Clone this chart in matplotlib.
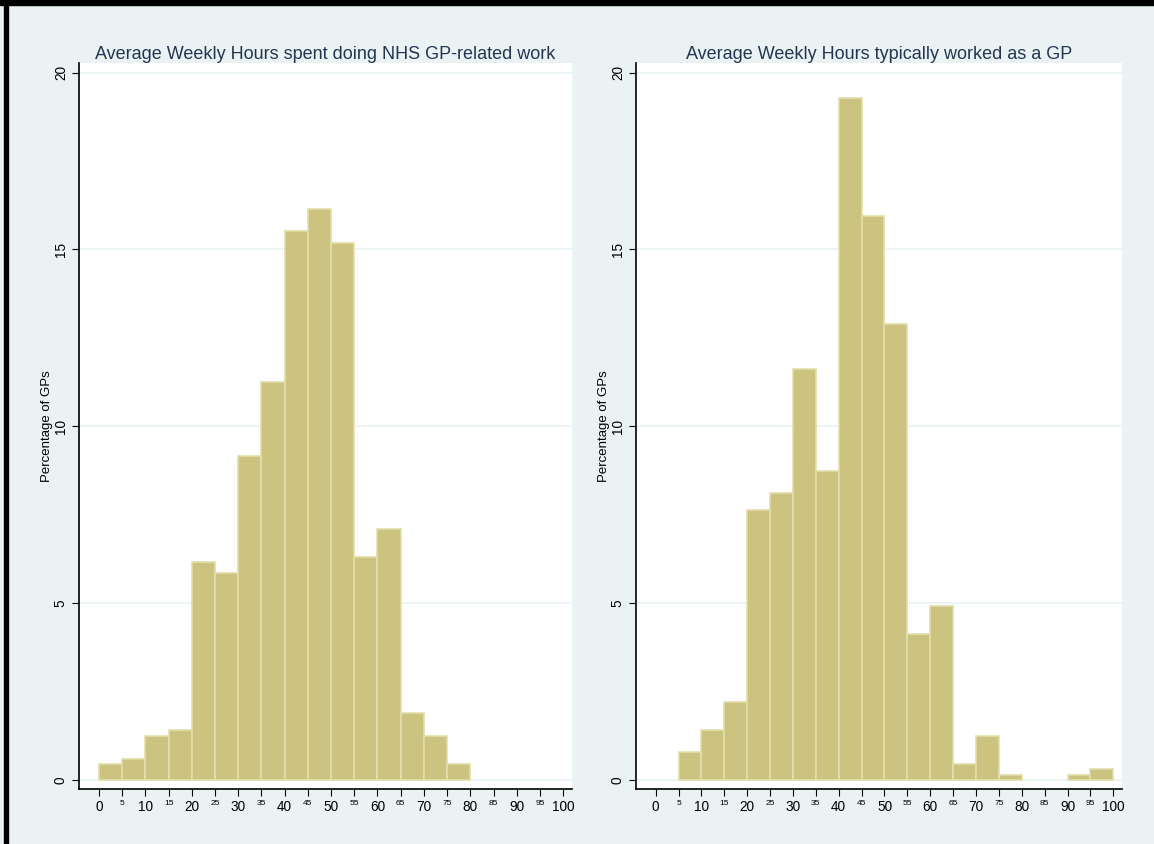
import numpy as np
import matplotlib
matplotlib.use("Agg")
import matplotlib.pyplot as plt
from matplotlib.patches import Rectangle

plt.rcParams['font.family'] = ['Liberation Sans', 'DejaVu Sans']

# bin edges (hours), 5-hour bins
bin_left = np.arange(0, 100, 5)
# percentage of GPs in each bin
nhs_pct = [0.45, 0.61, 1.25, 1.41, 6.16, 5.85, 9.17, 11.24, 15.52, 16.15,
           15.19, 6.32, 7.11, 1.89, 1.25, 0.45, 0, 0, 0, 0]
typical_pct = [0, 0.79, 1.42, 2.22, 7.64, 8.11, 11.63, 8.75, 19.27, 15.94,
               12.90, 4.13, 4.92, 0.45, 1.25, 0.15, 0, 0, 0.15, 0.31]
titles = ["Average Weekly Hours spent doing NHS GP-related work",
          "Average Weekly Hours typically worked as a GP"]
ylabel = "Percentage of GPs"
major_x = list(range(0, 101, 10))
minor_x = list(range(5, 100, 10))
y_ticks = [0, 5, 10, 15, 20]

bg = '#EAF2F3'
bar_fc = '#CBC37F'
bar_ec = '#E2DEAA'
title_c = '#243552'

W, H = 1154, 844
fig = plt.figure(figsize=(W / 100, H / 100), dpi=100, facecolor=bg)

# black frame remnants on top and left edge
fig.patches.append(Rectangle((0, 1 - 5 / H), 1, 5 / H, transform=fig.transFigure,
                             color='black', zorder=10))
fig.patches.append(Rectangle((4 / W, 0), 4 / W, 1, transform=fig.transFigure,
                             color='black', zorder=10))

boxes = [(79, 572), (636, 1122)]
for (x0, x1), vals, title in zip(boxes, [nhs_pct, typical_pct], titles):
    ax = fig.add_axes([x0 / W, (H - 789) / H, (x1 - x0) / W, (789 - 63) / H])
    ax.set_facecolor('white')
    lefts = [l for l, v in zip(bin_left, vals) if v > 0]
    heights = [v for v in vals if v > 0]
    ax.bar(lefts, heights, width=5, align='edge', color=bar_fc,
           edgecolor=bar_ec, linewidth=1.2, zorder=3)
    ax.set_xlim(-4.3, 101.9)
    ax.set_ylim(-0.25, 20.27)
    for y in y_ticks:
        ax.axhline(y, color='#EAF2F3', lw=1.2, zorder=1)
    ax.set_yticks(y_ticks)
    ax.set_yticklabels([str(y) for y in y_ticks], rotation=90, va='center')
    ax.set_xticks(major_x)
    ax.set_xticklabels([str(x) for x in major_x])
    ax.set_xticks(minor_x, labels=[str(x) for x in minor_x], minor=True)
    ax.tick_params(axis='both', which='major', labelsize=9.8, length=5,
                   width=0.8, color='black', pad=3)
    ax.tick_params(axis='x', which='minor', labelsize=6, length=5,
                   width=0.8, pad=3)
    ax.tick_params(axis='y', which='minor', length=0)
    for s in ['top', 'right']:
        ax.spines[s].set_visible(False)
    for s in ['left', 'bottom']:
        ax.spines[s].set_linewidth(1.2)
    ax.set_ylabel(ylabel, fontsize=9.5)
    ax.yaxis.set_label_coords(-26 / (x1 - x0), 0.5)
    ax.set_title(title, fontsize=13, color=title_c, pad=2)

fig.savefig("out.png", dpi=100, facecolor=bg)
